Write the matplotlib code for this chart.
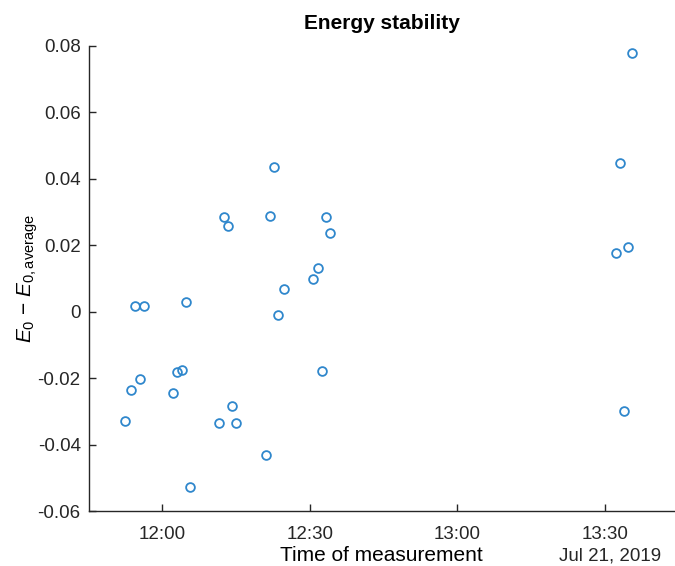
import datetime as dt
import matplotlib
matplotlib.use('Agg')
import matplotlib.pyplot as plt
import matplotlib.dates as mdates
from matplotlib import ticker

# measurement times (Jul 21, 2019) and energy deviation E0 - E0,average
times = ['11:52:32', '11:53:42', '11:54:26', '11:55:28', '11:56:16',
         '12:02:14', '12:03:03', '12:04:00', '12:04:53', '12:05:38',
         '12:11:40', '12:12:36', '12:13:24', '12:14:14', '12:15:03',
         '12:21:06', '12:22:00', '12:22:48', '12:23:36', '12:24:45',
         '12:30:42', '12:31:42', '12:32:24', '12:33:24', '12:34:12',
         '13:32:12', '13:33:00', '13:33:54', '13:34:42', '13:35:30']
dE = [-0.0330, -0.0236, 0.0018, -0.0204, 0.0018,
      -0.0244, -0.0183, -0.0175, 0.0030, -0.0527,
      -0.0334, 0.0284, 0.0259, -0.0285, -0.0334,
      -0.0432, 0.0288, 0.0436, -0.0011, 0.0067,
      0.0100, 0.0133, -0.0179, 0.0284, 0.0236,
      0.0178, 0.0448, -0.0298, 0.0194, 0.0780]
day = dt.date(2019, 7, 21)
xticks = ['12:00', '12:30', '13:00', '13:30']
yticks = [-0.06, -0.04, -0.02, 0, 0.02, 0.04, 0.06, 0.08]

plt.rcParams['font.family'] = ['Liberation Sans', 'DejaVu Sans']
plt.rcParams['mathtext.fontset'] = 'custom'
plt.rcParams['mathtext.rm'] = 'Liberation Sans'
plt.rcParams['mathtext.it'] = 'Liberation Sans:italic'
plt.rcParams['axes.unicode_minus'] = False


def to_dt(s):
    return dt.datetime.combine(day, dt.datetime.strptime(s, '%H:%M:%S').time())


x = [to_dt(t) for t in times]

fig = plt.figure(figsize=(6.75, 5.66), dpi=100)
ax = fig.add_axes([89 / 675, 55 / 566, 585 / 675, 465 / 566])

ax.plot(x, dE, linestyle='none', marker='o', markersize=6.3,
        markerfacecolor='none', markeredgecolor='#2f87cc', markeredgewidth=1.3)

ax.set_xlim(to_dt('11:45:09'), to_dt('13:44:02'))
ax.set_ylim(-0.06, 0.08)
ax.set_xticks([to_dt(t + ':00') for t in xticks])
ax.xaxis.set_major_formatter(mdates.DateFormatter('%H:%M'))
ax.set_yticks(yticks)
ax.yaxis.set_major_formatter(ticker.FuncFormatter(lambda v, p: f'{round(v, 2):g}'))

gray = '#262626'
for s in ['top', 'right']:
    ax.spines[s].set_visible(False)
for s in ['left', 'bottom']:
    ax.spines[s].set_color(gray)
    ax.spines[s].set_linewidth(1.0)
ax.tick_params(direction='in', length=5, width=1, colors=gray, labelsize=13.5)
ax.tick_params(axis='x', pad=11)
ax.tick_params(axis='y', pad=6)

ax.set_title('Energy stability', fontsize=15, fontweight='bold', pad=12)
ax.set_xlabel('Time of measurement', fontsize=15, labelpad=2)
ax.set_ylabel(r'$E_0$ $-$ $E_{0,\mathrm{average}}$', fontsize=15, labelpad=-2)

# date label under the last tick, as MATLAB datetime axes do
ax.annotate('Jul 21, 2019', xy=(mdates.date2num(to_dt('13:31:00')), 0),
            xycoords=('data', 'axes fraction'), xytext=(0, -45),
            textcoords='offset pixels', fontsize=13.5, color=gray,
            ha='center', va='center')

fig.savefig('out.png', dpi=100)
